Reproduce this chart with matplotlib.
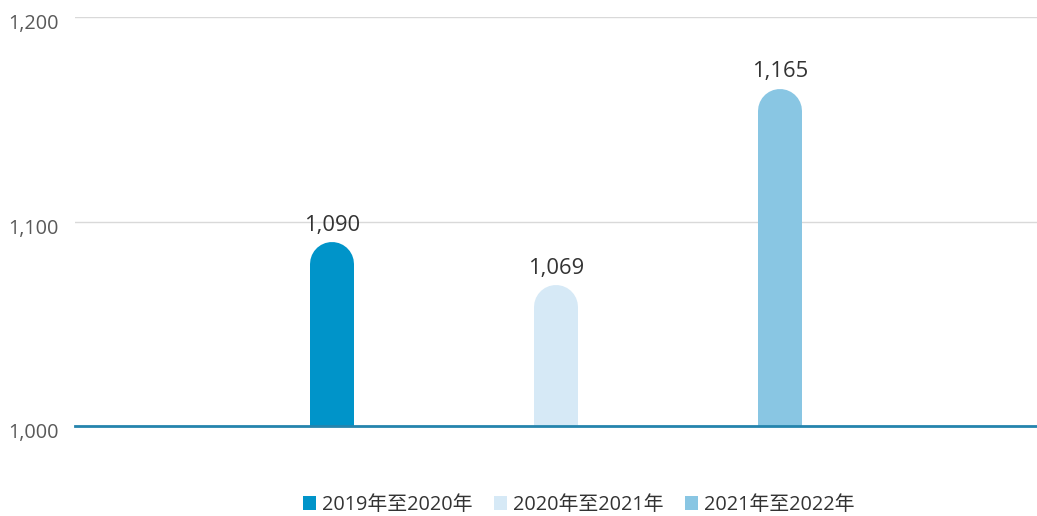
import matplotlib.pyplot as plt
from matplotlib.patches import Patch
from matplotlib.transforms import ScaledTranslation

plt.rcParams['font.family'] = ['Open Sans', 'Noto Sans CJK SC', 'DejaVu Sans']

periods = ['2019年至2020年', '2020年至2021年', '2021年至2022年']
values = [1090, 1069, 1165]
colors = ['#0094c9', '#d6e9f6', '#89c6e3']
yticks = [1000, 1100, 1200]
ytick_labels = ['1,000', '1,100', '1,200']

W, H = 1037, 516
fig = plt.figure(figsize=(W / 100, H / 100), dpi=100)
ax = fig.add_axes([75 / W, (H - 426) / H, (W - 75) / W, (426 - 17) / H])

ax.set_xlim(-2.147, 2.147)
ax.set_ylim(1000, 1200)

bar_px = 44
px_per_unit = (426 - 17) / 200.0
r = (bar_px / 2) / px_per_unit
offsets = [-1, 0, 1]
for off, v, c in zip(offsets, values, colors):
    ax.plot([off, off], [990, v - r], color=c, lw=bar_px * 72 / 100,
            solid_capstyle='round', zorder=2)
    ax.text(off, v + 3, f'{v:,}', ha='center', va='bottom',
            fontsize=15.8, color='#333333')

ax.set_yticks(yticks)
ax.set_yticklabels(ytick_labels)
ax.tick_params(axis='y', length=0, pad=12, labelsize=14.3, labelcolor='#595959')
shift = ScaledTranslation(0, -5 / 100, fig.dpi_scale_trans)
for lbl in ax.get_yticklabels():
    lbl.set_transform(lbl.get_transform() + shift)
ax.tick_params(axis='x', length=0, labelbottom=False)
ax.grid(axis='y', color='#d9d9d9', lw=1, zorder=0)
ax.axhline(1000, color='#2584ad', lw=2, zorder=3, clip_on=False)
for s in ax.spines.values():
    s.set_visible(False)

handles = [Patch(facecolor=c, edgecolor='none') for c in colors]
fig.legend(handles, periods, loc='center', bbox_to_anchor=(0.558, (H - 505) / H),
           ncol=3, frameon=False, fontsize=14.3, handlelength=0.65, handleheight=0.65,
           handletextpad=0.3, columnspacing=1.1, labelcolor='#333333')

fig.savefig('out.png', dpi=100)
